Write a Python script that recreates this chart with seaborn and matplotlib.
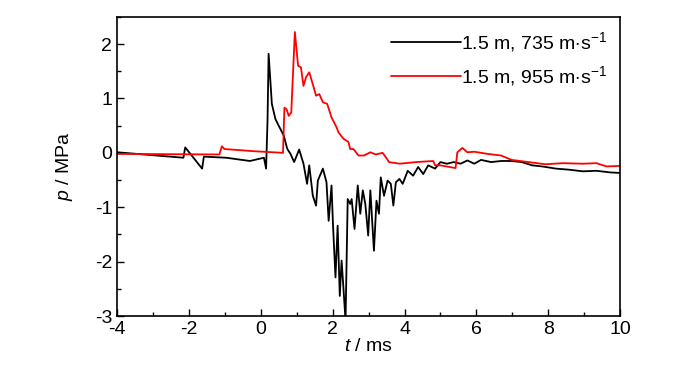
import matplotlib
matplotlib.use("Agg")
import matplotlib.pyplot as plt
import seaborn as sns
import pandas as pd
from matplotlib.ticker import MultipleLocator

t_black = [-3.99, -2.15, -2.10, -1.63, -1.58, -0.96, -0.30, 0.09, 0.15, 0.19, 0.22, 0.31, 0.41, 0.50,
           0.64, 0.74, 0.83, 0.93, 1.07, 1.19, 1.29, 1.35, 1.45, 1.54, 1.59, 1.73, 1.83, 1.89, 1.97,
           2.01, 2.08, 2.14, 2.20, 2.25, 2.30, 2.36, 2.42, 2.49, 2.53, 2.61, 2.70, 2.77, 2.84, 2.91,
           2.99, 3.05, 3.15, 3.22, 3.29, 3.34, 3.43, 3.53, 3.62, 3.69, 3.76, 3.86, 3.95, 4.09, 4.24,
           4.38, 4.52, 4.66, 4.85, 5.00, 5.18, 5.37, 5.56, 5.75, 5.94, 6.13, 6.41, 6.69, 6.98, 7.26,
           7.55, 7.83, 8.21, 8.58, 8.96, 9.34, 9.72, 10.0]
p_black = [0.01, -0.09, 0.10, -0.29, -0.07, -0.09, -0.15, -0.09, -0.29, 0.60, 1.82, 0.90, 0.62, 0.50,
           0.32, 0.07, -0.02, -0.17, 0.06, -0.20, -0.57, -0.23, -0.79, -0.97, -0.51, -0.29, -0.54, -1.25, -0.60,
           -1.31, -2.29, -1.34, -2.63, -1.98, -2.47, -3.09, -0.85, -0.94, -0.85, -1.40, -0.60, -1.12, -0.69, -0.94,
           -1.52, -0.69, -1.80, -0.88, -1.12, -0.45, -0.79, -0.51, -0.57, -0.97, -0.54, -0.48, -0.57, -0.33, -0.42,
           -0.26, -0.39, -0.23, -0.29, -0.17, -0.20, -0.17, -0.20, -0.14, -0.20, -0.13, -0.17, -0.15, -0.15, -0.17,
           -0.23, -0.25, -0.29, -0.31, -0.34, -0.33, -0.36, -0.37]

t_red = [-3.99, -1.15, -1.08, -1.01, -0.20, 0.62, 0.66, 0.72, 0.78, 0.85, 0.95, 1.04, 1.12, 1.19, 1.26,
         1.35, 1.45, 1.54, 1.63, 1.73, 1.85, 1.97, 2.11, 2.16, 2.30, 2.44, 2.49, 2.58, 2.72, 2.87, 3.05,
         3.20, 3.39, 3.48, 3.57, 3.86, 4.33, 4.80, 4.85, 5.00, 5.42, 5.47, 5.61, 5.75, 5.94, 6.32, 6.69,
         6.98, 7.45, 7.92, 8.40, 8.96, 9.34, 9.62, 10.0]
p_red = [-0.02, -0.03, 0.12, 0.07, 0.03, 0.00, 0.83, 0.80, 0.68, 0.74, 2.22, 1.60, 1.57, 1.23, 1.39,
         1.48, 1.26, 1.05, 1.08, 0.93, 0.90, 0.65, 0.47, 0.38, 0.26, 0.20, 0.07, 0.07, -0.05, -0.05, 0.01,
         -0.03, 0.00, -0.08, -0.17, -0.20, -0.17, -0.15, -0.23, -0.23, -0.28, 0.01, 0.09, 0.01, 0.02, -0.02, -0.05,
         -0.13, -0.17, -0.21, -0.19, -0.20, -0.19, -0.25, -0.24]

labels = [r"1.5 m, 735 m$\cdot$s$^{-1}$", r"1.5 m, 955 m$\cdot$s$^{-1}$"]
colors = ["black", "#ff0000"]

sns.set_style("ticks")
plt.rcParams["font.family"] = ["Liberation Sans", "DejaVu Sans"]
plt.rcParams["mathtext.fontset"] = "custom"
plt.rcParams["mathtext.rm"] = "Liberation Sans"
plt.rcParams["mathtext.it"] = "Liberation Sans:italic"
plt.rcParams["axes.unicode_minus"] = False
for key in ["text.color", "axes.labelcolor", "xtick.color", "ytick.color", "axes.edgecolor"]:
    plt.rcParams[key] = "black"

df = pd.concat([
    pd.DataFrame({"t": t_black, "p": p_black, "s": labels[0]}),
    pd.DataFrame({"t": t_red, "p": p_red, "s": labels[1]}),
])

fig = plt.figure(figsize=(7.0, 3.74), dpi=100)
ax = fig.add_axes([0.167, 0.155, 0.719, 0.8])
sns.lineplot(data=df, x="t", y="p", hue="s", palette=colors, ax=ax, linewidth=1.3,
             sort=False, estimator=None)
ax.set_xlim(-4, 10)
ax.set_ylim(-3, 2.5)
ax.xaxis.set_major_locator(MultipleLocator(2))
ax.xaxis.set_minor_locator(MultipleLocator(1))
ax.yaxis.set_major_locator(MultipleLocator(1))
ax.yaxis.set_minor_locator(MultipleLocator(0.5))
ax.tick_params(which="both", direction="in", top=False, right=False, labelsize=14, colors="black")
ax.tick_params(which="major", length=5, width=1)
ax.tick_params(which="minor", length=3, width=1)
for sp in ax.spines.values():
    sp.set_visible(True)
    sp.set_linewidth(1.2)
    sp.set_color("black")
ax.set_xlabel(r"$\it{t}$ / ms", fontsize=14, labelpad=0)
ax.set_ylabel(r"$\it{p}$ / MPa", fontsize=14, labelpad=14)
leg = ax.legend(loc="upper right", frameon=False, fontsize=14, handlelength=3.6,
                handletextpad=0.0, borderaxespad=0.3, labelspacing=0.5)
leg.set_title(None)
fig.savefig("out.png", dpi=100)
